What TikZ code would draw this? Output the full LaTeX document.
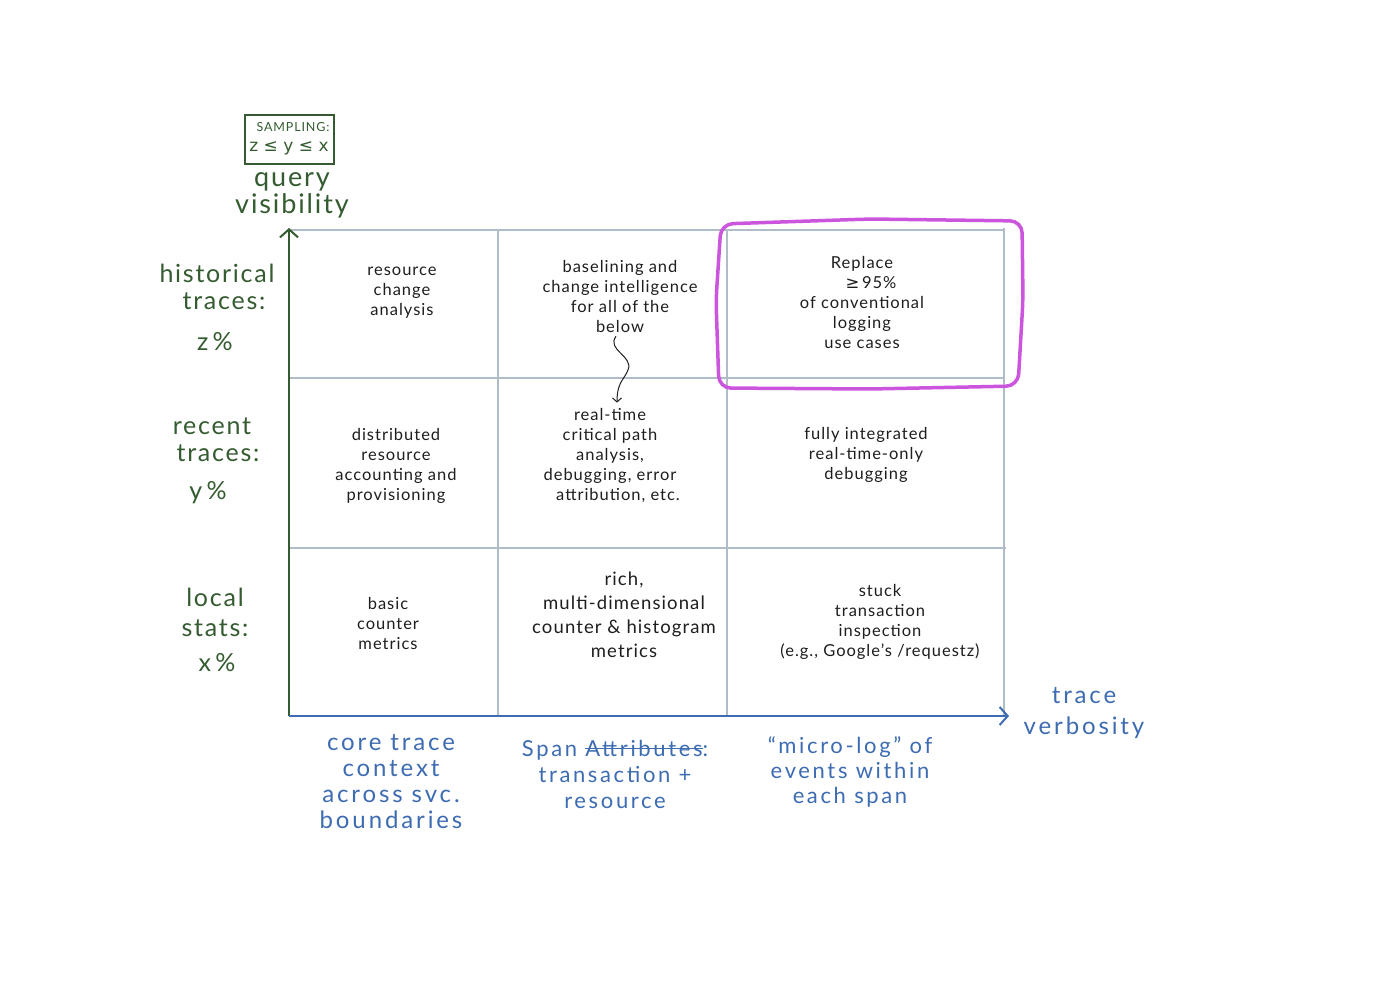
\documentclass[tikz,border=0pt]{standalone}
\usepackage{fontspec}
\setmainfont{Lato}
\newfontfamily\cellfont[LetterSpace=6]{Lato}
\newfontfamily\labfont[LetterSpace=7]{Lato}
\newfontfamily\bluefont[LetterSpace=12]{Lato}
\newfontfamily\symfont{DejaVu Sans}
\usetikzlibrary{arrows.meta}
\definecolor{axgreen}{RGB}{52,92,48}
\definecolor{axblue}{RGB}{61,108,178}
\definecolor{gridc}{RGB}{176,188,200}
\definecolor{hilite}{RGB}{204,85,221}
\definecolor{ink}{RGB}{30,30,30}
\newcommand{\mystrike}[1]{\setbox0\hbox{#1}\rlap{\raisebox{0.3em}{\rule{\wd0}{1.3pt}}}\box0}
\begin{document}
\begin{tikzpicture}[x=1pt,y=-1pt,
  gridline/.style={draw=gridc,line width=1.2pt},
  celltext/.style={font=\cellfont\fontsize{16.5}{20}\selectfont,text=ink,align=center,inner sep=0pt},
  greenlab/.style={font=\labfont\fontsize{25}{27}\selectfont,text=axgreen,align=center,inner sep=0pt},
  bluelab/.style={font=\bluefont\fontsize{24}{26}\selectfont,text=axblue,align=center,inner sep=0pt},
  axisarrow/.style={line width=2pt,-{Straight Barb[length=8pt,width=18pt,line width=2pt]}}]
\useasboundingbox[fill=white] (0,0) rectangle (1400,992);

% grid
\draw[gridline] (289,230) -- (1004,230);
\draw[gridline] (289,378) -- (1004,378);
\draw[gridline] (289,548) -- (1006,548);
\draw[gridline] (498,230) -- (498,716);
\draw[gridline] (727,230) -- (727,716);
\draw[gridline] (1004,228) -- (1004,716);

% axes
\coordinate (origin) at (289,716);
\coordinate (ytip) at (289,228);
\coordinate (xtip) at (1009,716);
\draw[axisarrow,draw=axgreen] (origin) -- (ytip);
\draw[axisarrow,draw=axblue] (origin) -- (xtip);

% highlight box
\draw[hilite,line width=3.5pt,rounded corners=12pt]
  (721,224) -- (870,219) -- (1022,221) -- (1023,300) -- (1018,386)
  -- (870,389) -- (719,388) -- (716,300) -- cycle;

% sampling box
\node[draw=axgreen,line width=1.4pt,minimum width=89pt,minimum height=49pt,inner sep=0pt] (sampling) at (289.5,139.5) {};
\node[font=\labfont\fontsize{12.5}{13}\selectfont,text=axgreen,inner sep=0pt] (samplab) at (293,127) {SAMPLING:};
\node[font=\fontsize{17}{18}\selectfont\symfont,text=axgreen,inner sep=0pt] (sampineq) at (289,148) {z ≤ y ≤ x};

% y axis label
\node[greenlab,font=\labfont\fontsize{27}{27}\selectfont] (ylab) at (292,195) {query\\visibility};

% row labels
\node[greenlab] (r1) at (217,287) {historical\\\hspace*{14pt}traces:};
\node[greenlab] (r1p) at (215,342) {z\,\%};
\node[greenlab] (r2) at (212,440) {recent\\\hspace*{12pt}traces:};
\node[greenlab] (r2p) at (208,493) {y\,\%};
\node[greenlab,font=\labfont\fontsize{25}{30}\selectfont] (r3) at (215,612) {local\\stats:};
\node[greenlab] (r3p) at (217,663) {x\,\%};

% cells row 1
\node[celltext] (c11) at (402,293) {resource\\change\\analysis};
\node[celltext] (c12) at (620,296) {baselining and\\change intelligence\\for all of the\\below};
\node[celltext] (c13) at (862,302) {Replace\\\hspace*{18pt}{\symfont ≥}\,95\%\\of conventional\\logging\\use cases};

% cells row 2
\node[celltext] (c21) at (396,466) {distributed\\resource\\accounting and\\provisioning};
\node[celltext] (c22) at (610,456) {real-time\\critical path\\analysis,\\debugging, error\\\hspace*{16pt}attribution, etc.};
\node[celltext] (c23) at (866,455) {fully integrated\\real-time-only\\debugging};

% cells row 3
\node[celltext] (c31) at (388,623) {basic\\counter\\metrics};
\node[celltext,font=\cellfont\fontsize{18.5}{24}\selectfont] (c32) at (624,615) {rich,\\multi-dimensional\\counter \& histogram\\metrics};
\node[celltext] (c33) at (880,622) {stuck\\transaction\\inspection\\(e.g., Google’s /requestz)};

% squiggle connector
\coordinate (sqend) at ([yshift=6pt]c22.north -| 617,0);
\draw[ink,line width=1pt,-{Straight Barb[length=4pt,width=9pt]}]
  ([xshift=-4pt,yshift=-4pt]c12.south) .. controls (606,350) and (634,356) .. (628,370)
  .. controls (624,380) and (617,382) .. (sqend);

% x axis label
\node[bluelab,font=\bluefont\fontsize{24}{31}\selectfont] (xlab) at (1084,713) {trace\\verbosity};

% column labels
\node[bluelab] (b1) at (391,782) {core trace\\context\\across svc.\\boundaries};
\node[bluelab,font=\bluefont\fontsize{22}{26}\selectfont] (b2) at (615,774) {Span \mystrike{Attributes}:\\transaction +\\resource};
\node[bluelab,font=\bluefont\fontsize{22}{25}\selectfont] (b3) at (850,772) {“micro-log” of\\events within\\each span};
\end{tikzpicture}
\end{document}
